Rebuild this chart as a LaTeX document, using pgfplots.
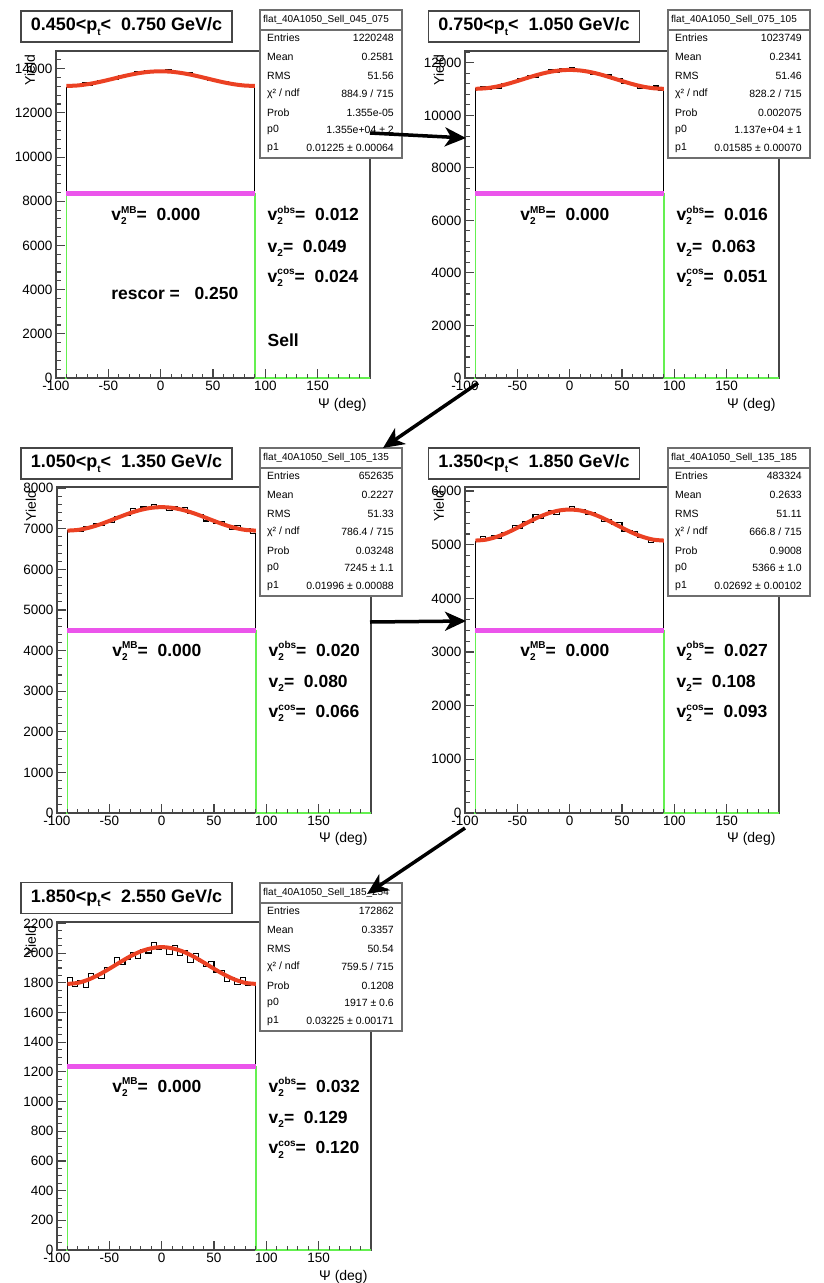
\documentclass[border=0pt]{standalone}
\usepackage{fontspec}
\setmainfont{Liberation Sans}
\usepackage{pgfplots}
\pgfplotsset{compat=1.18}
\usetikzlibrary{arrows.meta}
\definecolor{rootred}{RGB}{235,65,35}
\definecolor{rootmag}{RGB}{235,85,235}
\definecolor{rootgreen}{RGB}{100,240,80}
\definecolor{framegray}{RGB}{70,70,70}
\definecolor{statgray}{RGB}{110,110,110}
\tikzset{tk/.style={draw=framegray, line width=1.1pt}}
\newcommand{\titlefont}{\fontsize{18}{18}\selectfont\bfseries}
\newcommand{\vfont}{\fontsize{17.5}{18}\selectfont\bfseries}
\newcommand{\stfont}{\fontsize{10.5}{11}\selectfont}
\newcommand{\sthead}{\fontsize{10}{10}\selectfont}
\newcommand{\labfont}{\fontsize{14}{14}\selectfont}
\newcommand{\smallidx}{\fontsize{10}{10}\selectfont}
\newcommand{\vt}[1]{v\rlap{\raisebox{-0.45ex}{\smallidx 2}}\raisebox{0.8ex}{\smallidx #1}}
\newcommand{\vtwo}{v\raisebox{-0.45ex}{\smallidx 2}}
\newcommand{\ptitle}[2]{#1<p\raisebox{-0.5ex}{\smallidx t}<\ \ #2 GeV/c}
\newcommand{\statbox}[8]{%
  \fill[white] (0,0) rectangle (142pt,-148pt);
  \draw[statgray, line width=1.6pt] (0,0) rectangle (142pt,-148pt);
  \draw[statgray, line width=1.2pt] (0,-20pt) -- (142pt,-20pt);
  \node[anchor=west, font=\sthead, inner sep=0pt] at (3pt,-10pt) {#1};
  \node[anchor=west, font=\stfont, inner sep=0pt] at (7pt,-28pt) {Entries};
  \node[anchor=east, font=\stfont, inner sep=0pt] at (134pt,-28pt) {#2};
  \node[anchor=west, font=\stfont, inner sep=0pt] at (7pt,-47pt) {Mean};
  \node[anchor=east, font=\stfont, inner sep=0pt] at (134pt,-47pt) {#3};
  \node[anchor=west, font=\stfont, inner sep=0pt] at (7pt,-66pt) {RMS};
  \node[anchor=east, font=\stfont, inner sep=0pt] at (134pt,-66pt) {#4};
  \node[anchor=west, font=\stfont, inner sep=0pt] at (7pt,-84pt) {χ² / ndf};
  \node[anchor=east, font=\stfont, inner sep=0pt] at (134pt,-84pt) {#5};
  \node[anchor=west, font=\stfont, inner sep=0pt] at (7pt,-103pt) {Prob};
  \node[anchor=east, font=\stfont, inner sep=0pt] at (134pt,-103pt) {#6};
  \node[anchor=west, font=\stfont, inner sep=0pt] at (7pt,-120pt) {p0};
  \node[anchor=east, font=\stfont, inner sep=0pt] at (134pt,-120pt) {#7};
  \node[anchor=west, font=\stfont, inner sep=0pt] at (7pt,-138pt) {p1};
  \node[anchor=east, font=\stfont, inner sep=0pt] at (134pt,-138pt) {#8};
}
\pgfplotsset{rootaxis/.style={
  anchor=south west, scale only axis, width=314pt, height=327pt,
  xmin=-100, xmax=200, ymin=0, clip=false,
  axis line style={framegray, line width=1.3pt},
  xtick={-100,-50,0,50,100,150},
  minor x tick num=4,
  tick align=inside, xtick pos=left, ytick pos=left,
  major tick length=9pt, minor tick length=4.5pt,
  tick style={draw=framegray, line width=1.1pt},
  tick label style={font=\fontsize{13.5}{14}\selectfont},
  /pgf/number format/assume math mode=true,
  /pgf/number format/1000 sep={},
  scaled y ticks=false,
}}
\newcommand{\rootticks}[2]{%
  \pgfplotsinvokeforeach{-100,-50,0,50,100,150}{\draw[tk] (axis cs:##1,0) -- ++(0pt,9pt);}%
  \pgfplotsinvokeforeach{-90,-80,-70,-60,-40,-30,-20,-10,10,20,30,40,60,70,80,90,110,120,130,140,160,170,180,190}{\draw[tk] (axis cs:##1,0) -- ++(0pt,4.5pt);}%
  \pgfplotsinvokeforeach{#1}{\draw[tk] (axis cs:-100,##1) -- ++(9pt,0pt);}%
  \pgfplotsinvokeforeach{#2}{\draw[tk] (axis cs:-100,##1) -- ++(4.5pt,0pt);}%
}
\newcommand{\axlabels}{%
  \node[anchor=north east, font=\labfont] at (rel axis cs:1,-0.05) {Ψ (deg)};
  \node[anchor=east, rotate=90, font=\labfont] at (rel axis cs:-0.083,1) {Yield};
}
\newcommand{\vtexts}[3]{%
  \node[anchor=west, font=\vfont] at (rel axis cs:0.165,0.497) {\vt{MB}=\ \ 0.000};
  \node[anchor=west, font=\vfont] at (rel axis cs:0.663,0.497) {\vt{obs}=\ \ #1};
  \node[anchor=west, font=\vfont] at (rel axis cs:0.663,0.397) {\vtwo=\ \ #2};
  \node[anchor=west, font=\vfont] at (rel axis cs:0.663,0.306) {\vt{cos}=\ \ #3};
}
\begin{document}
\begin{tikzpicture}
\path[use as bounding box] (0pt,0pt) rectangle (823pt,-1283pt);

% ---------------- Panel 1 ----------------
\begin{axis}[rootaxis, at={(56pt,-378pt)}, ymax=14800, ytick={0,2000,...,14000}, minor y tick num=4]
\addplot[black, line width=1.1pt, const plot, mark=none] coordinates {(-90,0) (-90,13149) (-85,13264) (-80,13228) (-75,13362) (-70,13259) (-65,13374) (-60,13473) (-55,13429) (-50,13528) (-45,13502) (-40,13678) (-35,13711) (-30,13712) (-25,13855) (-20,13808) (-15,13900) (-10,13808) (-5,13909) (0,13881) (5,13948) (10,13809) (15,13878) (20,13764) (25,13831) (30,13641) (35,13650) (40,13614) (45,13451) (50,13485) (55,13382) (60,13423) (65,13301) (70,13320) (75,13193) (80,13257) (85,13212) (90,0)};
\addplot[rootgreen, line width=1.5pt, const plot, mark=none] coordinates {(-100,0) (-90,8350) (90,0) (200,0)};
\addplot[rootmag, line width=4.5pt, mark=none] coordinates {(-90,8350) (90,8350)};
\addplot[rootred, line width=4pt, smooth, mark=none] coordinates {(-90,13218) (-80,13238) (-70,13296) (-60,13384) (-50,13492) (-40,13608) (-30,13716) (-20,13804) (-10,13862) (0,13882) (10,13862) (20,13804) (30,13716) (40,13608) (50,13492) (60,13384) (70,13296) (80,13238) (90,13218)};
\rootticks{0,2000,4000,6000,8000,10000,12000,14000}{400,800,1200,1600,2400,2800,3200,3600,4400,4800,5200,5600,6400,6800,7200,7600,8400,8800,9200,9600,10400,10800,11200,11600,12400,12800,13200,13600,14400}
\vtexts{0.012}{0.049}{0.024}
\node[anchor=west, font=\vfont] at (rel axis cs:0.165,0.259) {rescor =\ \ \ 0.250};
\node[anchor=west, font=\vfont] at (rel axis cs:0.663,0.116) {Sell};
\axlabels
\end{axis}

% ---------------- Panel 2 ----------------
\begin{axis}[rootaxis, at={(465pt,-378pt)}, ymax=12450, ytick={0,2000,...,12000}, minor y tick num=4]
\addplot[black, line width=1.1pt, const plot, mark=none] coordinates {(-90,0) (-90,11027) (-85,11094) (-80,11004) (-75,11083) (-70,11027) (-65,11212) (-60,11242) (-55,11245) (-50,11419) (-45,11385) (-40,11519) (-35,11450) (-30,11608) (-25,11625) (-20,11753) (-15,11648) (-10,11782) (-5,11705) (0,11833) (5,11662) (10,11712) (15,11705) (20,11545) (25,11600) (30,11490) (35,11535) (40,11385) (45,11387) (50,11213) (55,11250) (60,11156) (65,11035) (70,11115) (75,11020) (80,11118) (85,10947) (90,0)};
\addplot[rootgreen, line width=1.5pt, const plot, mark=none] coordinates {(-100,0) (-90,7030) (90,0) (200,0)};
\addplot[rootmag, line width=4.5pt, mark=none] coordinates {(-90,7030) (90,7030)};
\addplot[rootred, line width=4pt, smooth, mark=none] coordinates {(-90,11010) (-80,11032) (-70,11094) (-60,11190) (-50,11307) (-40,11432) (-30,11550) (-20,11646) (-10,11708) (0,11730) (10,11708) (20,11646) (30,11550) (40,11432) (50,11307) (60,11190) (70,11094) (80,11032) (90,11010)};
\rootticks{0,2000,4000,6000,8000,10000,12000}{400,800,1200,1600,2400,2800,3200,3600,4400,4800,5200,5600,6400,6800,7200,7600,8400,8800,9200,9600,10400,10800,11200,11600,12400}
\vtexts{0.016}{0.063}{0.051}
\axlabels
\end{axis}

% ---------------- Panel 3 ----------------
\begin{axis}[rootaxis, at={(57pt,-813pt)}, height=326pt, ymax=8030, ytick={0,1000,...,8000}, minor y tick num=4]
\addplot[black, line width=1.1pt, const plot, mark=none] coordinates {(-90,0) (-90,6950) (-85,6994) (-80,6927) (-75,7050) (-70,7027) (-65,7142) (-60,7095) (-55,7191) (-50,7150) (-45,7305) (-40,7334) (-35,7318) (-30,7502) (-25,7428) (-20,7538) (-15,7465) (-10,7601) (-5,7533) (0,7561) (5,7461) (10,7556) (15,7468) (20,7519) (25,7383) (30,7388) (35,7362) (40,7193) (45,7227) (50,7135) (55,7186) (60,7093) (65,6985) (70,7092) (75,6962) (80,7001) (85,6887) (90,0)};
\addplot[rootgreen, line width=1.5pt, const plot, mark=none] coordinates {(-100,0) (-90,4500) (90,0) (200,0)};
\addplot[rootmag, line width=4.5pt, mark=none] coordinates {(-90,4500) (90,4500)};
\addplot[rootred, line width=4pt, smooth, mark=none] coordinates {(-90,6956) (-80,6973) (-70,7024) (-60,7100) (-50,7195) (-40,7295) (-30,7390) (-20,7466) (-10,7517) (0,7534) (10,7517) (20,7466) (30,7390) (40,7295) (50,7195) (60,7100) (70,7024) (80,6973) (90,6956)};
\rootticks{0,1000,2000,3000,4000,5000,6000,7000,8000}{200,400,600,800,1200,1400,1600,1800,2200,2400,2600,2800,3200,3400,3600,3800,4200,4400,4600,4800,5200,5400,5600,5800,6200,6400,6600,6800,7200,7400,7600,7800}
\vtexts{0.020}{0.080}{0.066}
\axlabels
\end{axis}

% ---------------- Panel 4 ----------------
\begin{axis}[rootaxis, at={(465pt,-813pt)}, height=326pt, ymax=6075, ytick={0,1000,...,6000}, minor y tick num=4]
\addplot[black, line width=1.1pt, const plot, mark=none] coordinates {(-90,0) (-90,5054) (-85,5147) (-80,5092) (-75,5171) (-70,5108) (-65,5224) (-60,5244) (-55,5357) (-50,5305) (-45,5439) (-40,5423) (-35,5566) (-30,5490) (-25,5582) (-20,5633) (-15,5568) (-10,5663) (-5,5630) (0,5708) (5,5633) (10,5664) (15,5555) (20,5594) (25,5526) (30,5428) (35,5471) (40,5373) (45,5413) (50,5243) (55,5256) (60,5254) (65,5132) (70,5135) (75,5038) (80,5123) (85,5096) (90,0)};
\addplot[rootgreen, line width=1.5pt, const plot, mark=none] coordinates {(-100,0) (-90,3400) (90,0) (200,0)};
\addplot[rootmag, line width=4.5pt, mark=none] coordinates {(-90,3400) (90,3400)};
\addplot[rootred, line width=4pt, smooth, mark=none] coordinates {(-90,5077) (-80,5094) (-70,5145) (-60,5221) (-50,5316) (-40,5416) (-30,5511) (-20,5587) (-10,5638) (0,5655) (10,5638) (20,5587) (30,5511) (40,5416) (50,5316) (60,5221) (70,5145) (80,5094) (90,5077)};
\rootticks{0,1000,2000,3000,4000,5000,6000}{200,400,600,800,1200,1400,1600,1800,2200,2400,2600,2800,3200,3400,3600,3800,4200,4400,4600,4800,5200,5400,5600,5800}
\vtexts{0.027}{0.108}{0.093}
\axlabels
\end{axis}

% ---------------- Panel 5 ----------------
\begin{axis}[rootaxis, at={(57pt,-1250pt)}, height=328pt, ymax=2210, ytick={0,200,...,2200}, minor y tick num=3]
\addplot[black, line width=1.1pt, const plot, mark=none] coordinates {(-90,0) (-90,1834) (-85,1778) (-80,1817) (-75,1768) (-70,1862) (-65,1838) (-60,1829) (-55,1905) (-50,1902) (-45,1972) (-40,1925) (-35,1957) (-30,2004) (-25,1964) (-20,2026) (-15,2001) (-10,2072) (-5,2024) (0,2040) (5,1992) (10,2053) (15,1986) (20,2016) (25,1936) (30,1997) (35,1941) (40,1908) (45,1946) (50,1873) (55,1881) (60,1810) (65,1838) (70,1792) (75,1837) (80,1782) (85,1798) (90,0)};
\addplot[rootgreen, line width=1.5pt, const plot, mark=none] coordinates {(-100,0) (-90,1237) (90,0) (200,0)};
\addplot[rootmag, line width=4.5pt, mark=none] coordinates {(-90,1237) (90,1237)};
\addplot[rootred, line width=4pt, smooth, mark=none] coordinates {(-90,1793) (-80,1800) (-70,1822) (-60,1855) (-50,1895) (-40,1938) (-30,1979) (-20,2012) (-10,2033) (0,2041) (10,2033) (20,2012) (30,1979) (40,1938) (50,1895) (60,1855) (70,1822) (80,1800) (90,1793)};
\rootticks{0,200,400,600,800,1000,1200,1400,1600,1800,2000,2200}{50,100,150,250,300,350,450,500,550,650,700,750,850,900,950,1050,1100,1150,1250,1300,1350,1450,1500,1550,1650,1700,1750,1850,1900,1950,2050,2100,2150}
\vtexts{0.032}{0.129}{0.120}
\axlabels
\end{axis}

% ---------------- Title boxes ----------------
\node[draw=framegray, line width=1.4pt, fill=white, minimum width=211pt, minimum height=31pt, inner sep=0pt, font=\titlefont] at (126.5pt,-26.5pt) {\ptitle{0.450}{0.750}};
\node[draw=framegray, line width=1.4pt, fill=white, minimum width=211pt, minimum height=31pt, inner sep=0pt, font=\titlefont] at (534pt,-26.5pt) {\ptitle{0.750}{1.050}};
\node[draw=framegray, line width=1.4pt, fill=white, minimum width=211pt, minimum height=31pt, inner sep=0pt, font=\titlefont] at (126.5pt,-463.5pt) {\ptitle{1.050}{1.350}};
\node[draw=framegray, line width=1.4pt, fill=white, minimum width=211pt, minimum height=31pt, inner sep=0pt, font=\titlefont] at (534pt,-463.5pt) {\ptitle{1.350}{1.850}};
\node[draw=framegray, line width=1.4pt, fill=white, minimum width=211pt, minimum height=31pt, inner sep=0pt, font=\titlefont] at (126.5pt,-898pt) {\ptitle{1.850}{2.550}};

% ---------------- Stat boxes ----------------
\begin{scope}[shift={(260pt,-10pt)}]
\statbox{flat\_40A1050\_Sell\_045\_075}{1220248}{0.2581}{51.56}{884.9 / 715}{1.355e-05}{1.355e+04 ± 2}{0.01225 ± 0.00064}
\end{scope}
\begin{scope}[shift={(668pt,-10pt)}]
\statbox{flat\_40A1050\_Sell\_075\_105}{1023749}{0.2341}{51.46}{828.2 / 715}{0.002075}{1.137e+04 ± 1}{0.01585 ± 0.00070}
\end{scope}
\begin{scope}[shift={(260pt,-448pt)}]
\statbox{flat\_40A1050\_Sell\_105\_135}{652635}{0.2227}{51.33}{786.4 / 715}{0.03248}{7245 ± 1.1}{0.01996 ± 0.00088}
\end{scope}
\begin{scope}[shift={(668pt,-448pt)}]
\statbox{flat\_40A1050\_Sell\_135\_185}{483324}{0.2633}{51.11}{666.8 / 715}{0.9008}{5366 ± 1.0}{0.02692 ± 0.00102}
\end{scope}
\begin{scope}[shift={(260pt,-883pt)}]
\statbox{flat\_40A1050\_Sell\_185\_254}{172862}{0.3357}{50.54}{759.5 / 715}{0.1208}{1917 ± 0.6}{0.03225 ± 0.00171}
\end{scope}

% ---------------- Arrows ----------------
\begin{scope}[line width=3.5pt, -{Stealth[length=21pt,width=19pt,inset=6pt]}]
\draw (370pt,-133pt) -- (466pt,-138pt);
\draw (478pt,-383pt) -- (383pt,-448pt);
\draw (370pt,-622pt) -- (466pt,-621pt);
\draw (465pt,-828pt) -- (367pt,-894pt);
\end{scope}
\end{tikzpicture}
\end{document}
